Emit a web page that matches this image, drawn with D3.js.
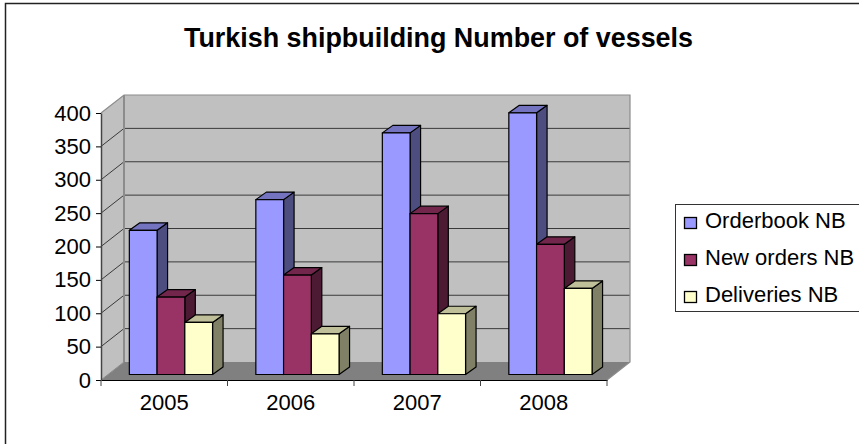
<!DOCTYPE html>
<html>
<head>
<meta charset="utf-8">
<script src="https://d3js.org/d3.v7.min.js"></script>
<style>
  html, body { margin: 0; padding: 0; background: #fff; }
  text { font-family: "Liberation Sans", Arial, sans-serif; fill: #000; }
</style>
</head>
<body>
<svg id="chart" width="859" height="444" style="display:block"></svg>
<script>
const years = ['2005', '2006', '2007', '2008'];
const seriesNames = ['Orderbook NB', 'New orders NB', 'Deliveries NB'];
const orderbook = [216, 262, 362, 392];
const newOrders = [116, 149, 241, 195];
const deliveries = [78, 61, 91, 129];
const yTicks = [0, 50, 100, 150, 200, 250, 300, 350, 400];

const seriesValues = [orderbook, newOrders, deliveries];
const faceColors = ['#9999ff', '#993366', '#ffffcc'];
const topColors = ['#7373bf', '#73264c', '#bfbf99'];
const sideColors = ['#4d4d80', '#4d1a33', '#808066'];

// front plane of the box, walls are pushed back by depth
const plotLeft = 101, plotRight = 607, plotFront = 380, plotTop = 113;
const depth = { x: 23, y: 18 };
const barOff = { x: 6.7, y: 5.5 };
const barDepth = { x: 10.5, y: 7.5 };
const labelSize = 22;

const svg = d3.select('#chart');
const x = d3.scaleBand().domain(years).range([plotLeft, plotRight]);
const inner = d3.scaleBand().domain(d3.range(3)).range([0, x.bandwidth()]).paddingOuter(0.78).paddingInner(0);
const y = d3.scaleLinear().domain([0, 400]).range([plotFront, plotTop]);

const poly = (pts) => pts.map(p => p.join(',')).join(' ');

// frame runs off the right and bottom of the picture
svg.append('rect')
  .attr('x', 5.5).attr('y', 3.5).attr('width', 900).attr('height', 500)
  .attr('fill', '#fff').attr('stroke', '#222').attr('stroke-width', 1.5);

svg.append('text')
  .attr('x', 438.5).attr('y', 47)
  .attr('text-anchor', 'middle')
  .attr('font-size', 26.9).attr('font-weight', 'bold')
  .text('Turkish shipbuilding Number of vessels');

// walls and floor
const bx = depth.x, by = depth.y;
svg.append('polygon').attr('points', poly([[plotLeft, plotFront], [plotLeft + bx, plotFront - by], [plotLeft + bx, plotTop - by], [plotLeft, plotTop]]))
  .attr('fill', '#c0c0c0');
svg.append('polygon').attr('points', poly([[plotLeft + bx, plotFront - by], [plotRight + bx, plotFront - by], [plotRight + bx, plotTop - by], [plotLeft + bx, plotTop - by]]))
  .attr('fill', '#c0c0c0');
svg.append('polygon').attr('points', poly([[plotLeft, plotFront], [plotRight, plotFront], [plotRight + bx, plotFront - by], [plotLeft + bx, plotFront - by]]))
  .attr('fill', '#808080');

// gridlines along side wall and back wall
svg.append('g').selectAll('polyline').data(yTicks.slice(1, -1)).join('polyline')
  .attr('points', d => poly([[plotLeft, y(d)], [plotLeft + bx, y(d) - by], [plotRight + bx, y(d) - by]]))
  .attr('fill', 'none').attr('stroke', '#000').attr('stroke-opacity', 0.7).attr('stroke-width', 1);

// wall outlines
svg.append('polyline')
  .attr('points', poly([[plotLeft, plotTop], [plotLeft + bx, plotTop - by], [plotRight + bx, plotTop - by], [plotRight + bx, plotFront - by], [plotRight, plotFront]]))
  .attr('fill', 'none').attr('stroke', '#8c8c8c').attr('stroke-width', 1.2);
svg.append('line')
  .attr('x1', plotLeft + bx).attr('x2', plotLeft + bx).attr('y1', plotTop - by).attr('y2', plotFront - by)
  .attr('stroke', '#8c8c8c').attr('stroke-width', 2);
svg.append('line')
  .attr('x1', plotLeft).attr('x2', plotLeft + bx).attr('y1', plotFront).attr('y2', plotFront - by)
  .attr('stroke', '#8c8c8c');

// bars, back to front within each cluster
const by0 = plotFront - barOff.y;
const barsG = svg.append('g');
years.forEach((yr, i) => {
  seriesValues.forEach((vals, s) => {
    const x0 = x(yr) + inner(s) + barOff.x;
    const w = inner.bandwidth();
    const yt = y(vals[i]) - barOff.y;
    const g = barsG.append('g').attr('stroke', '#000').attr('stroke-width', 1.2).attr('stroke-linejoin', 'round');
    g.append('polygon').attr('points', poly([[x0 + w, yt], [x0 + w + barDepth.x, yt - barDepth.y], [x0 + w + barDepth.x, by0 - barDepth.y], [x0 + w, by0]]))
      .attr('fill', sideColors[s]);
    g.append('polygon').attr('points', poly([[x0, yt], [x0 + barDepth.x, yt - barDepth.y], [x0 + w + barDepth.x, yt - barDepth.y], [x0 + w, yt]]))
      .attr('fill', topColors[s]);
    g.append('rect').attr('x', x0).attr('y', yt).attr('width', w).attr('height', by0 - yt)
      .attr('fill', faceColors[s]);
  });
});

// axes
const yAxis = d3.axisLeft(y).tickValues(yTicks).tickSize(5).tickPadding(5).tickSizeOuter(0);
const yG = svg.append('g').attr('transform', `translate(${plotLeft},0)`).call(yAxis);
yG.selectAll('text').style('font-size', labelSize + 'px');
yG.selectAll('.domain').attr('stroke', '#444').attr('stroke-width', 1.5);

const xAxis = d3.axisBottom(x).tickSize(0).tickPadding(14);
const xG = svg.append('g').attr('transform', `translate(0,${plotFront})`).call(xAxis);
xG.selectAll('text').style('font-size', labelSize + 'px');
xG.select('.domain').attr('stroke', '#000').attr('stroke-width', 1.2);
xG.append('g').selectAll('line').data([...years.map(d => x(d)), plotRight]).join('line')
  .attr('x1', d => d).attr('x2', d => d).attr('y1', 0).attr('y2', 6).attr('stroke', '#444');

// legend, box runs off the right edge
const legend = svg.append('g');
legend.append('rect').attr('x', 675.5).attr('y', 204.5).attr('width', 220).attr('height', 107)
  .attr('fill', '#fff').attr('stroke', '#333');
const rowY = d3.scalePoint().domain(seriesNames).range([221, 295]);
seriesNames.forEach((name, s) => {
  legend.append('rect').attr('x', 684.5).attr('y', rowY(name) - 3.5).attr('width', 12).attr('height', 11)
    .attr('fill', faceColors[s]).attr('stroke', '#000').attr('stroke-width', 1.3);
  legend.append('text').attr('x', 705).attr('y', rowY(name) + 6.5).style('font-size', labelSize + 'px').text(name);
});
</script>
</body>
</html>
